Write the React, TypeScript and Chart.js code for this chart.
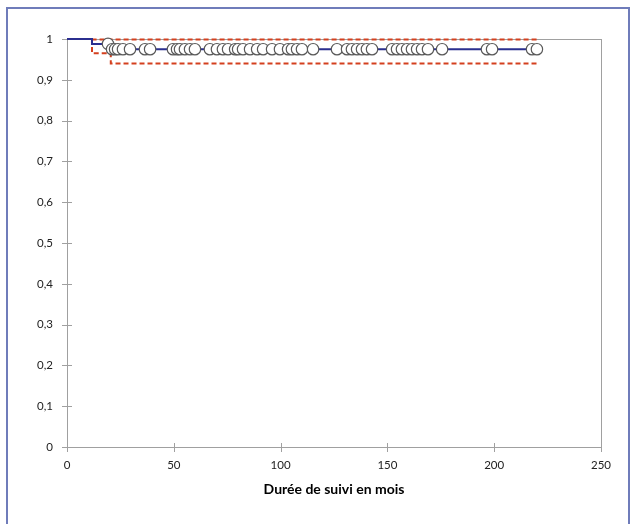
import React, { useEffect, useRef } from "react";
import { Chart, registerables } from "chart.js";

Chart.register(...registerables);

// Kaplan-Meier event times (months) and survival after each event
const eventTimes = [11.7, 20.5];
const survivalAfter = [0.988, 0.975];
const endTime = 220;

// Confidence interval (starts at first event)
const ciTimes = [11.7, 20.5];
const ciUpper = [0.999, 0.999];
const ciLower = [0.965, 0.94];

// Censored observations (months)
const censored = [
  19.2, 21.1, 22.5, 23.9, 26.2, 29.5, 36.5, 38.9, 49.6, 51.5, 52.9, 55.2, 57.6,
  59.9, 66.9, 70.2, 73.0, 75.4, 78.7, 80.1, 82.4, 85.7, 89.0, 91.8, 96.0, 99.7,
  103.5, 105.3, 107.7, 110.0, 115.2, 126.4, 131.1, 133.4, 135.8, 138.1, 140.4,
  142.8, 152.2, 154.5, 156.8, 159.2, 161.5, 163.9, 166.2, 169.0, 175.6, 196.6,
  199.0, 217.7, 220.0,
];

const xTicks = [0, 50, 100, 150, 200, 250];
const xTitle = "Durée de suivi en mois";

function stepPoints(times: number[], values: number[], start: number, startX: number, end: number) {
  const pts: { x: number; y: number }[] = [{ x: startX, y: start }];
  let prev = start;
  times.forEach((t, i) => {
    pts.push({ x: t, y: prev });
    pts.push({ x: t, y: values[i] });
    prev = values[i];
  });
  pts.push({ x: end, y: prev });
  return pts;
}

function survivalAt(t: number) {
  let s = 1;
  eventTimes.forEach((e, i) => {
    if (t >= e) s = survivalAfter[i];
  });
  return s;
}

const framePlugin = {
  id: "frame",
  beforeDatasetsDraw(chart: any) {
    const { ctx, chartArea } = chart;
    const { left, right, top, bottom } = chartArea;
    ctx.save();
    ctx.strokeStyle = "#a0a0a0";
    ctx.lineWidth = 1;
    ctx.strokeRect(left + 0.5, top + 0.5, right - left, bottom - top);
    const xs = chart.scales.x;
    const ys = chart.scales.y;
    ctx.beginPath();
    xs.ticks.forEach((t: any) => {
      const px = Math.round(xs.getPixelForValue(t.value)) + 0.5;
      ctx.moveTo(px, bottom - 4);
      ctx.lineTo(px, bottom + 5);
    });
    ys.ticks.forEach((t: any) => {
      const py = Math.round(ys.getPixelForValue(t.value)) + 0.5;
      ctx.moveTo(left - 5, py);
      ctx.lineTo(left + 5, py);
    });
    ctx.stroke();
    ctx.restore();
  },
};

export default function App() {
  const ref = useRef<HTMLCanvasElement>(null);
  useEffect(() => {
    if (!ref.current) return;
    const km = stepPoints(eventTimes, survivalAfter, 1, 0, endTime);
    const up = stepPoints(ciTimes.slice(1), ciUpper.slice(1), ciUpper[0], ciTimes[0], endTime);
    const lo = stepPoints(ciTimes.slice(1), ciLower.slice(1), ciLower[0], ciTimes[0], endTime);
    up.unshift({ x: ciTimes[0], y: 1 });
    lo.unshift({ x: ciTimes[0], y: 1 });
    const cens = censored.map((t) => ({ x: t, y: survivalAt(t) }));
    const chart = new Chart(ref.current, {
      type: "scatter",
      data: {
        datasets: [
          {
            data: cens,
            showLine: false,
            pointRadius: 5.7,
            pointBackgroundColor: "#ffffff",
            pointBorderColor: "#5a5a5a",
            pointBorderWidth: 1.2,
            clip: 10,
          },
          {
            data: km,
            showLine: true,
            pointRadius: 0,
            borderColor: "#2b2f8f",
            borderWidth: 2,
            clip: 10,
          },
          {
            data: up,
            showLine: true,
            pointRadius: 0,
            borderColor: "#d4401f",
            borderWidth: 2,
            borderDash: [5, 3],
            clip: 10,
          },
          {
            data: lo,
            showLine: true,
            pointRadius: 0,
            borderColor: "#d4401f",
            borderWidth: 2,
            borderDash: [5, 3],
            clip: 10,
          },
        ],
      },
      options: {
        animation: false,
        responsive: false,
        maintainAspectRatio: false,
        layout: { padding: { left: 0, top: 39, right: 38, bottom: 0 } },
        plugins: { legend: { display: false }, tooltip: { enabled: false } },
        scales: {
          x: {
            type: "linear",
            min: 0,
            max: 250,
            afterFit: (s: any) => {
              s.height = 77;
            },
            afterBuildTicks: (s: any) => {
              s.ticks = xTicks.map((v) => ({ value: v }));
            },
            grid: { display: false, drawTicks: false },
            border: { display: false },
            ticks: {
              padding: 11,
              color: "#222",
              font: { family: "Lato", size: 11.5 },
            },
            title: {
              display: true,
              text: xTitle,
              color: "#000",
              font: { family: "Lato", size: 14, weight: "bold" },
              padding: { top: 4, bottom: 26 },
            },
          },
          y: {
            type: "linear",
            min: 0,
            max: 1,
            afterFit: (s: any) => {
              s.width = 67;
            },
            grid: { display: false, drawTicks: false },
            border: { display: false },
            ticks: {
              stepSize: 0.1,
              padding: 14,
              color: "#222",
              font: { family: "Lato", size: 11.5 },
              callback: (v: any) => {
                const n = Math.round(Number(v) * 10) / 10;
                return String(n).replace(".", ",");
              },
            },
          },
        },
      },
      plugins: [framePlugin],
    });
    return () => chart.destroy();
  }, []);
  return (
    <div style={{ position: "absolute", left: 0, top: 0, width: 639, height: 524, overflow: "hidden", background: "#fff" }}>
      <div
        style={{
          position: "absolute",
          left: 6,
          top: 7,
          width: 624,
          height: 540,
          border: "2px solid #6f7cba",
          boxSizing: "border-box",
        }}
      />
      <canvas ref={ref} width={639} height={524} style={{ position: "absolute", left: 0, top: 0, width: 639, height: 524 }} />
    </div>
  );
}
